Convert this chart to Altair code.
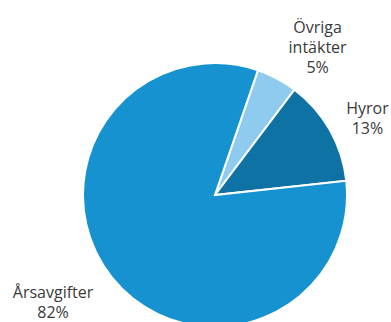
import altair as alt
import pandas as pd
import math

categories = ["Övriga intäkter", "Hyror", "Årsavgifter"]
label_lines = [["Övriga", "intäkter", "5%"], ["Hyror", "13%"], ["Årsavgifter", "82%"]]
values = [5, 13, 82]
colors = ["#8fcbef", "#0f72a5", "#1592cf"]

df = pd.DataFrame({
    "cat": categories,
    "value": values,
    "order": list(range(len(categories))),
    "label": ["\n".join(l) for l in label_lines],
})

start = math.radians(19)
theta_scale = alt.Scale(range=[start, start + 2 * math.pi])
color_scale = alt.Scale(domain=categories, range=colors)

base = alt.Chart(df).encode(
    theta=alt.Theta("value:Q", stack=True, scale=theta_scale),
    order=alt.Order("order:Q"),
)

arcs = base.mark_arc(outerRadius=132, stroke="white", strokeWidth=2).encode(
    color=alt.Color("cat:N", scale=color_scale, legend=None),
    x=alt.value(215),
    y=alt.value(195),
)

label_pos = {
    "Övriga intäkter": (178, 19, -10),
    "Hyror": (173, 2, -1),
    "Årsavgifter": (197, -8, -25),
}

layers = [arcs]
for cat in categories:
    r, dx, dy = label_pos[cat]
    t = base.mark_text(
        font="Open Sans", fontSize=16, color="#3a3a3a", lineBreak="\n",
        lineHeight=20, align="center", baseline="middle", radius=r, dx=dx, dy=dy,
    ).encode(
        text="label:N",
        x=alt.value(215),
        y=alt.value(195),
        opacity=alt.condition(alt.datum.cat == cat, alt.value(1), alt.value(0)),
    )
    layers.append(t)

chart = alt.layer(*layers).properties(
    width=391, height=322, padding=0,
    autosize=alt.AutoSizeParams(type="none"),
).configure_view(stroke=None)

chart.save("out.html", embed_options={"renderer": "svg", "actions": False})
